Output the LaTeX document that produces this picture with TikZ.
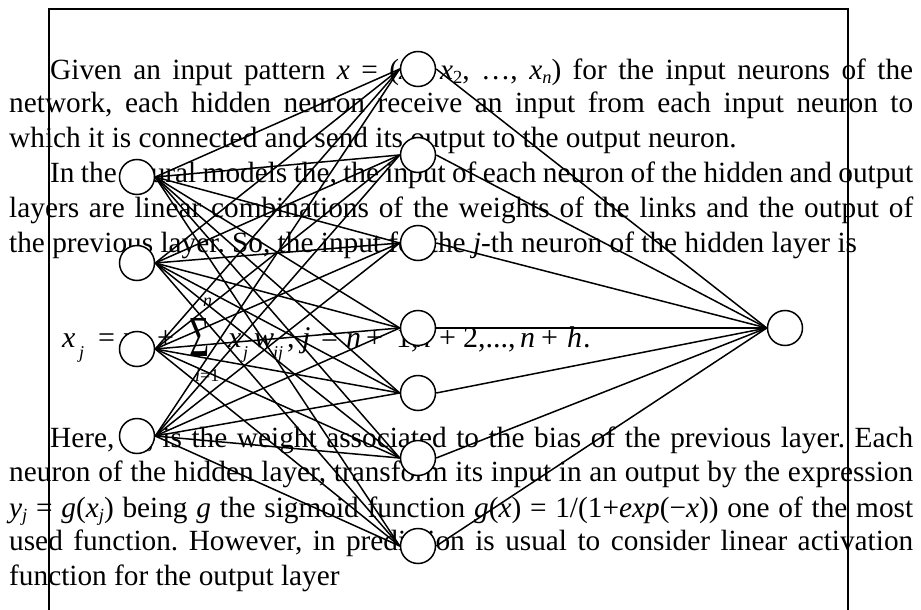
\documentclass[tikz,border=0pt]{standalone}
\usepackage{fontspec}
\setmainfont{Liberation Serif}
\frenchspacing
\newcommand{\lowsub}[1]{\raisebox{-0.3ex}{\fontsize{18.5}{18.5}\selectfont #1}}
\tikzset{
  neuron/.style={circle, draw, fill=white, line width=1.5pt, minimum size=35pt, inner sep=0pt},
  link/.style={line width=1.5pt},
  frameline/.style={line width=1.5pt},
  txt/.style={anchor=base west, inner sep=0pt, font=\fontsize{29.3}{32}\selectfont},
  eqt/.style={anchor=base west, inner sep=0pt, font=\fontsize{30}{30}\selectfont\itshape},
  eqr/.style={anchor=base west, inner sep=0pt, font=\fontsize{30}{30}\selectfont},
  eqs/.style={anchor=base west, inner sep=0pt, font=\fontsize{18}{20}\selectfont\itshape},
}
\begin{document}
\begin{tikzpicture}[x=1pt,y=-1pt]
\useasboundingbox (0,0) rectangle (921,610);
\fill[white] (0,0) rectangle (921,610);

% ---- text ----
\node[txt] (l1) at (50,79) {\makebox[863pt][s]{Given an input pattern \textit{x} = (\textit{x}\lowsub{1}, \textit{x}\lowsub{2}, …, \textit{x}\lowsub{\textit{n}}) for the input neurons of the}};
\node[txt] (l2) at (9,112) {\makebox[904pt][s]{network, each hidden neuron receive an input from each input neuron to}};
\node[txt] (l3) at (9,147) {which it is connected and send its output to the output neuron.};
\node[txt] (l4) at (50,182) {\makebox[863pt][s]{In the neural models the, the input of each neuron of the hidden and output}};
\node[txt] (l5) at (9,217) {\makebox[904pt][s]{layers are linear combinations of the weights of the links and the output of}};
\node[txt] (l6) at (9,252) {the previous layer. So, the input for the \textit{j}-th neuron of the hidden layer is};

% equation
\node[eqt] (e1) at (62,347) {x};
\node[eqs] (e2) at (79,358) {j};
\node[eqr] (e3) at (98,347) {=};
\node[eqt] (e4) at (123,347) {w};
\node[eqr] (e5) at (157,347) {+};
\node[anchor=south west, inner sep=0pt] (e6) at (189,357) {\resizebox{20pt}{38pt}{Σ}};
\node[eqs] (e7) at (203,306) {n};
\node[eqs] (e8) at (195,381) {i\upshape =1};
\node[eqt] (e9) at (228,347) {x};
\node[eqs] (e10) at (243,358) {j};
\node[eqt] (e11) at (254,347) {w};
\node[eqs] (e12) at (273,358) {ij};
\node[eqr] (e13) at (287,347) {,};
\node[eqt] (e14) at (302,347) {j};
\node[eqr] (e15) at (321,347) {=};
\node[eqt] (e16) at (346,347) {n};
\node[eqr] (e17) at (366,347) {+};
\node[eqr] (e18) at (396,347) {1,};
\node[eqt] (e19) at (416,347) {n};
\node[eqr] (e20) at (439,347) {+};
\node[eqr] (e21) at (463,347) {2,...,};
\node[eqt] (e22) at (520,347) {n};
\node[eqr] (e23) at (541,347) {+};
\node[eqt] (e24) at (567,347) {h};
\node[eqr] (e25) at (583,347) {.};

\node[txt] (l8) at (50,447) {\makebox[863pt][s]{Here, \textit{w}\lowsub{0} is the weight associated to the bias of the previous layer. Each}};
\node[txt] (l9) at (9,481) {\makebox[904pt][s]{neuron of the hidden layer, transform its input in an output by the expression}};
\node[txt] (l10) at (9,517) {\makebox[904pt][s]{\textit{y}\lowsub{\textit{j}} = \textit{g}(\textit{x}\lowsub{\textit{j}}) being \textit{g} the sigmoid function \textit{g}(\textit{x}) = 1/(1+\textit{exp}(−\textit{x})) one of the most}};
\node[txt] (l11) at (9,550) {\makebox[904pt][s]{used function. However, in prediction is usual to consider linear activation}};
\node[txt] (l12) at (9,585) {function for the output layer};

% ---- frame ----
\draw[frameline] (49,610) -- (49,9) -- (848,9) -- (848,610);

% ---- neurons ----
\foreach \n/\y in {1/177,2/263,3/349,4/436}
  \node[neuron] (i\n) at (137,\y) {};
\foreach \n/\y in {1/69,2/155,3/243,4/328,5/393,6/458,7/546}
  \node[neuron] (h\n) at (418,\y) {};
\node[neuron] (o) at (785,328) {};

% ---- links ----
\foreach \a in {1,...,4}
  \foreach \b in {1,...,7}
    \draw[link] (i\a.east) -- (h\b.west);
\foreach \b in {1,...,7}
  \draw[link] (h\b.east) -- (o.west);
\end{tikzpicture}
\end{document}
